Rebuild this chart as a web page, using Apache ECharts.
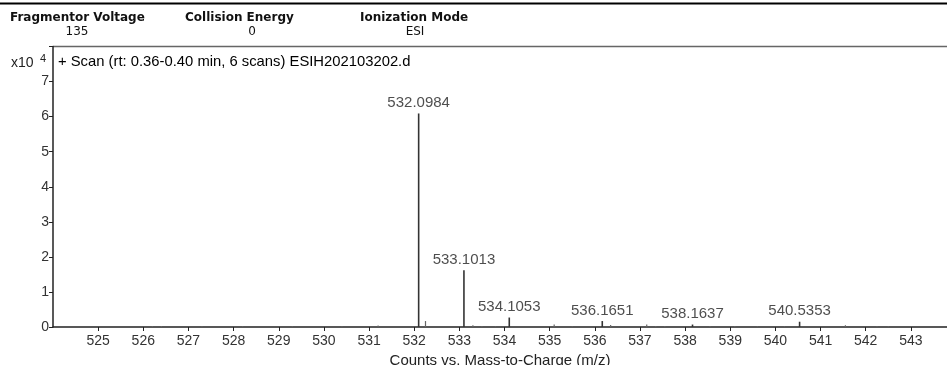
<!DOCTYPE html>
<html><head><meta charset="utf-8">
<script src="https://cdn.jsdelivr.net/npm/echarts@6/dist/echarts.min.js"></script>
<style>html,body{margin:0;padding:0;background:#fff}#c{width:947px;height:365px}</style>
</head><body><div id="c"></div>
<script>
// m/z and abundance (x10^4 counts)
const labeledMz = [532.0984, 533.1013, 534.1053, 536.1651, 538.1637, 540.5353];
const labeledAbund = [6.09, 1.62, 0.27, 0.17, 0.07, 0.15];
const minorMz = [526.2, 526.4, 527.3, 528.2, 529.3, 530.4, 531.2, 532.25, 533.3, 533.5, 533.8, 535.1, 535.5, 536.35, 537.15, 537.35, 537.55, 538.55, 539.1, 539.6, 540.2, 541.55, 542.25, 542.5];
const minorAbund = [0.03, 0.03, 0.02, 0.02, 0.02, 0.02, 0.04, 0.17, 0.05, 0.03, 0.02, 0.07, 0.02, 0.06, 0.07, 0.03, 0.03, 0.03, 0.03, 0.02, 0.02, 0.05, 0.02, 0.02];
const yTicks = [0, 1, 2, 3, 4, 5, 6, 7];
const xTicks = [525, 526, 527, 528, 529, 530, 531, 532, 533, 534, 535, 536, 537, 538, 539, 540, 541, 542, 543];
const header = [
  {title: 'Fragmentor Voltage', value: '135'},
  {title: 'Collision Energy', value: '0'},
  {title: 'Ionization Mode', value: 'ESI'}
];
const scanTitle = '+ Scan (rt: 0.36-0.40 min, 6 scans) ESIH202103202.d';
const xTitle = 'Counts vs. Mass-to-Charge (m/z)';

const FONT = '"Liberation Sans", Arial';
const chart = echarts.init(document.getElementById('c'));
const headerX = [[10, 77], [185, 252], [360, 415]];
const graphics = [
  {type: 'line', shape: {x1: 0, y1: 3.5, x2: 947, y2: 3.5}, style: {stroke: '#000', lineWidth: 2}},
  {type: 'line', shape: {x1: 53, y1: 46.5, x2: 947, y2: 46.5}, style: {stroke: '#666', lineWidth: 1.5}},
  {type: 'text', left: 11, top: 56, style: {text: 'x10', font: '14px ' + FONT, fill: '#222'}},
  {type: 'text', left: 40, top: 53, style: {text: '4', font: '11px ' + FONT, fill: '#222'}},
  {type: 'text', left: 58, top: 54, style: {text: scanTitle, font: '14.8px ' + FONT, fill: '#000'}}
];
header.forEach((h, i) => {
  graphics.push({type: 'text', left: headerX[i][0], top: 12, style: {text: h.title, font: 'bold 12px "DejaVu Sans"', fill: '#111'}});
  graphics.push({type: 'text', x: headerX[i][1], y: 26, style: {text: h.value, font: '12px "DejaVu Sans"', fill: '#111', align: 'center'}});
});

const labeledData = labeledMz.map((m, i) => [m, labeledAbund[i]]);
const minorData = minorMz.map((m, i) => [m, minorAbund[i]]);

function stick(color, width) {
  return function (params, api) {
    const p0 = api.coord([api.value(0), 0]);
    const p1 = api.coord([api.value(0), api.value(1)]);
    return {type: 'line', shape: {x1: p0[0], y1: p0[1], x2: p1[0], y2: p1[1]}, style: {stroke: color, lineWidth: width}};
  };
}

chart.setOption({
  animation: false,
  grid: {left: 53, right: 0, top: 46.5, bottom: 38, containLabel: false, outerBoundsMode: 'none'},
  xAxis: {
    type: 'value', min: 524, max: 543.8, interval: 1,
    name: xTitle, nameLocation: 'middle', nameGap: 24,
    nameTextStyle: {fontFamily: FONT, fontSize: 15, color: '#222'},
    axisLine: {lineStyle: {color: '#222', width: 1.5}},
    axisTick: {length: 4, lineStyle: {color: '#222'}},
    splitLine: {show: false},
    axisLabel: {fontFamily: FONT, fontSize: 14, color: '#333', margin: 7,
      showMaxLabel: false, showMinLabel: false,
      formatter: v => (xTicks.indexOf(v) >= 0 ? String(v) : '')}
  },
  yAxis: {
    type: 'value', min: 0, max: 8, interval: 1,
    axisLine: {show: true, lineStyle: {color: '#222', width: 1.5}},
    axisTick: {show: true, length: 4, lineStyle: {color: '#222'}},
    splitLine: {show: false},
    axisLabel: {fontFamily: FONT, fontSize: 14, color: '#333', margin: 4,
      formatter: v => (yTicks.indexOf(v) >= 0 ? String(v) : '')}
  },
  graphic: graphics,
  series: [
    {type: 'custom', renderItem: stick('#666', 1.2), data: minorData, encode: {x: 0, y: 1}, silent: true},
    {type: 'custom', renderItem: stick('#333', 1.6), data: labeledData, encode: {x: 0, y: 1}, silent: true},
    {type: 'scatter', data: labeledData, symbolSize: 0, silent: true,
      label: {show: true, position: 'top', distance: 3, formatter: p => p.value[0].toFixed(4),
        fontFamily: FONT, fontSize: 15, color: '#222'}}
  ]
});
</script></body></html>
